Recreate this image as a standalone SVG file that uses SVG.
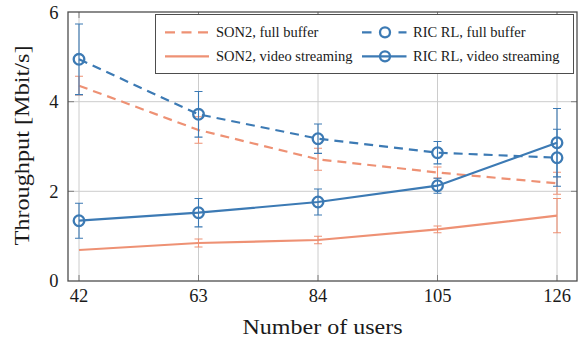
<svg xmlns="http://www.w3.org/2000/svg" width="578" height="339" viewBox="0 0 578 339">
<style>
.grid{stroke:#cccccc;stroke-width:1;fill:none}
.tick{stroke:#808080;stroke-width:1;fill:none}
.frame{stroke:#4d4d4d;stroke-width:1.3;fill:none}
.lbl{font-family:"Liberation Serif","DejaVu Serif",serif;fill:#1a1a1a}
.tl{font-size:18.5px}
.ax{font-size:22px}
.lg{font-size:14.5px}
.or{stroke:#ee9174;fill:none}
.bl{stroke:#3c7ab4;fill:none}
.line{stroke-width:2.2;stroke-linejoin:round}
.dash{stroke-dasharray:9 6}
.err{stroke-width:1.1}
.mk{stroke-width:2.3;fill:none}
</style>
<rect width="578" height="339" fill="#ffffff"/>
<g id="grid">
<path class="grid" d="M79 12V281M198.5 12V281M318 12V281M437.5 12V281M557 12V281M68 101.7H577M68 191.3H577"/>
</g>
<g id="ticks">
<path class="tick" d="M79 281v-6M198.5 281v-6M318 281v-6M437.5 281v-6M557 281v-6M79 12v6M198.5 12v6M318 12v6M437.5 12v6M557 12v6M68 101.7h6M68 191.3h6M577 101.7h-6M577 191.3h-6"/>
</g>
<g id="tick-labels" class="lbl tl">
<text x="58.5" y="18.7" text-anchor="end">6</text>
<text x="58.5" y="108.2" text-anchor="end">4</text>
<text x="58.5" y="197.7" text-anchor="end">2</text>
<text x="58.5" y="287.2" text-anchor="end">0</text>
<text x="79" y="301.7" text-anchor="middle">42</text>
<text x="198.5" y="301.7" text-anchor="middle">63</text>
<text x="318" y="301.7" text-anchor="middle">84</text>
<text x="437.5" y="301.7" text-anchor="middle">105</text>
<text x="557" y="301.7" text-anchor="middle">126</text>
</g>
<g id="axis-labels" class="lbl ax">
<text x="322.5" y="334" text-anchor="middle" textLength="160" lengthAdjust="spacingAndGlyphs">Number of users</text>
<text transform="translate(29 145.5) rotate(-90)" text-anchor="middle" textLength="200" lengthAdjust="spacingAndGlyphs">Throughput [Mbit/s]</text>
</g>
<g id="connectors">
<g id="son2-full-buffer">
<polyline class="or line dash" points="79,85.7 198.5,130 318,159.3 437.5,172.5 557,183.3"/>
<path class="or err" d="M79 76.3V95M75 76.3h8M75 95h8M198.5 116.7V143.3M194.5 116.7h8M194.5 143.3h8M318 148.3V170.3M314 148.3h8M314 170.3h8M437.5 167V178M433.5 167h8M433.5 178h8M557 172.3V194.3M553 172.3h8M553 194.3h8"/>
</g>
<g id="son2-video">
<polyline class="or line" points="79,250 198.5,243 318,240 437.5,229.3 557,215.7"/>
<path class="or err" d="M198.5 239V247M194.5 239h8M194.5 247h8M318 236.3V243.7M314 236.3h8M314 243.7h8M437.5 226V232.7M433.5 226h8M433.5 232.7h8M557 198.5V232.7M553 198.5h8M553 232.7h8"/>
</g>
<g id="ric-full-buffer">
<polyline class="bl line dash" points="79,59.3 198.5,114.3 318,138.7 437.5,152.7 557,157.7"/>
<path class="bl err" d="M79 24V94.6M75 24h8M75 94.6h8M198.5 91.5V137.1M194.5 91.5h8M194.5 137.1h8M318 124V153.4M314 124h8M314 153.4h8M437.5 141.5V163.9M433.5 141.5h8M433.5 163.9h8M557 129.2V186.2M553 129.2h8M553 186.2h8"/>
<g class="bl mk"><circle cx="79" cy="59.3" r="5.3"/><circle cx="198.5" cy="114.3" r="5.3"/><circle cx="318" cy="138.7" r="5.3"/><circle cx="437.5" cy="152.7" r="5.3"/><circle cx="557" cy="157.7" r="5.3"/></g>
</g>
<g id="ric-video">
<polyline class="bl line" points="79,220.7 198.5,212.7 318,202 437.5,185.7 557,142.7"/>
<path class="bl err" d="M79 203.2V238.2M75 203.2h8M75 238.2h8M198.5 198.5V226.9M194.5 198.5h8M194.5 226.9h8M318 189V215M314 189h8M314 215h8M437.5 178.2V193.2M433.5 178.2h8M433.5 193.2h8M557 108.5V176.9M553 108.5h8M553 176.9h8"/>
<g class="bl mk"><circle cx="79" cy="220.7" r="5.3"/><circle cx="198.5" cy="212.7" r="5.3"/><circle cx="318" cy="202" r="5.3"/><circle cx="437.5" cy="185.7" r="5.3"/><circle cx="557" cy="142.7" r="5.3"/></g>
</g>
</g>
<g id="frame">
<rect class="frame" x="68" y="12" width="509" height="269"/>
</g>
<g id="legend">
<rect x="155.5" y="14.5" width="418" height="59" fill="#ffffff" stroke="#4d4d4d" stroke-width="1"/>
<line class="or line" x1="165" y1="32.3" x2="209" y2="32.3" stroke-dasharray="10 6.5"/>
<line class="or line" x1="165" y1="56.3" x2="209" y2="56.3"/>
<line class="bl line" x1="362" y1="32.3" x2="406.5" y2="32.3" stroke-dasharray="9.5 13.5 0 13.5 9.5"/>
<circle class="bl mk" cx="385" cy="32.3" r="5"/>
<line class="bl line" x1="362" y1="56.3" x2="406.5" y2="56.3"/>
<circle class="bl mk" cx="385" cy="56.3" r="5"/>
<g class="lbl lg">
<text x="216" y="36.8">SON2, full buffer</text>
<text x="216" y="60.8">SON2, video streaming</text>
<text x="413" y="36.8">RIC RL, full buffer</text>
<text x="413" y="60.8">RIC RL, video streaming</text>
</g>
</g>
</svg>
